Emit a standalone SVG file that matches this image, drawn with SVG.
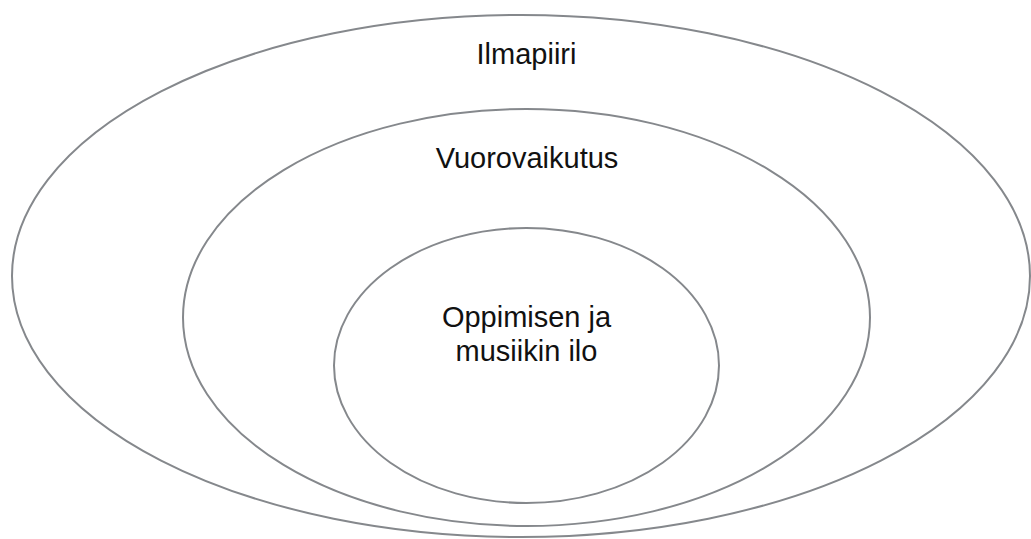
<svg xmlns="http://www.w3.org/2000/svg" width="1031" height="539" viewBox="0 0 1031 539">
<style>
.ring{fill:none;stroke:#85888c;stroke-width:2}
.lbl{font-family:"Liberation Sans",Arial,sans-serif;font-size:29px;fill:#111;text-anchor:middle}
</style>
<rect width="1031" height="539" fill="#fff"/>
<g id="ilmapiiri">
<ellipse class="ring" cx="521" cy="276" rx="509" ry="261"/>
<text class="lbl" x="526.5" y="64">Ilmapiiri</text>
</g>
<g id="vuorovaikutus">
<ellipse class="ring" cx="526.5" cy="317.5" rx="343.5" ry="208.5"/>
<text class="lbl" x="527" y="168">Vuorovaikutus</text>
</g>
<g id="ilo">
<ellipse class="ring" cx="526.5" cy="365.5" rx="192.5" ry="137.5"/>
<text class="lbl" x="526.5" y="327">Oppimisen ja</text>
<text class="lbl" x="526.5" y="361">musiikin ilo</text>
</g>
<g id="connectors"/>
</svg>
